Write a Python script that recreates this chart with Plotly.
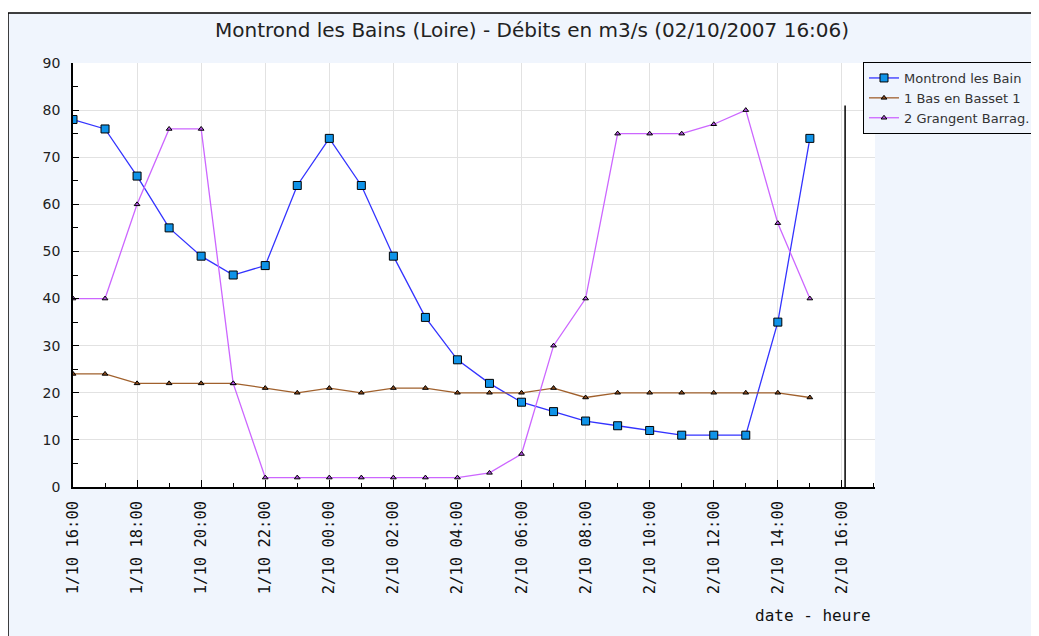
import plotly.graph_objects as go

# hourly readings, 1/10/2007 16:00 -> 2/10/2007 15:00
times = [
    "2007-10-01 16:00", "2007-10-01 17:00", "2007-10-01 18:00", "2007-10-01 19:00",
    "2007-10-01 20:00", "2007-10-01 21:00", "2007-10-01 22:00", "2007-10-01 23:00",
    "2007-10-02 00:00", "2007-10-02 01:00", "2007-10-02 02:00", "2007-10-02 03:00",
    "2007-10-02 04:00", "2007-10-02 05:00", "2007-10-02 06:00", "2007-10-02 07:00",
    "2007-10-02 08:00", "2007-10-02 09:00", "2007-10-02 10:00", "2007-10-02 11:00",
    "2007-10-02 12:00", "2007-10-02 13:00", "2007-10-02 14:00", "2007-10-02 15:00",
]
montrond = [78, 76, 66, 55, 49, 45, 47, 64, 74, 64, 49, 36, 27, 22, 18, 16, 14, 13, 12, 11, 11, 11, 35, 74]
bas_en_basset = [24, 24, 22, 22, 22, 22, 21, 20, 21, 20, 21, 21, 20, 20, 20, 21, 19, 20, 20, 20, 20, 20, 20, 19]
grangent = [40, 40, 60, 76, 76, 22, 2, 2, 2, 2, 2, 2, 2, 3, 7, 30, 40, 75, 75, 75, 77, 80, 56, 40]

now_marker = "2007-10-02 16:06"
now_top = 81

BG = "#f0f5fd"
# page body has an 8px margin, so everything is laid out 8px up/left
W, H = 1031, 628
L, R, T, B = 65, 867, 55, 479  # plot area in pixels


def px_x(p):
    return (p - L) / (R - L)


def px_y(p):
    return (B - p) / (B - T)


fig = go.Figure()
fig.add_trace(go.Scatter(
    x=times, y=montrond, name="Montrond les Bain", mode="lines+markers",
    line=dict(color="#3333ff", width=1.3),
    marker=dict(symbol="square", size=8, color="#0f93e8", line=dict(color="black", width=1)),
))
fig.add_trace(go.Scatter(
    x=times, y=bas_en_basset, name="1 Bas en Basset 1", mode="lines+markers",
    line=dict(color="#a0602c", width=1.3),
    marker=dict(symbol="triangle-up", size=5, color="#8a4a1c", line=dict(color="black", width=1)),
))
fig.add_trace(go.Scatter(
    x=times, y=grangent, name="2 Grangent Barrag.", mode="lines+markers",
    line=dict(color="#cc66ff", width=1.3),
    marker=dict(symbol="triangle-up", size=5, color="#b050e0", line=dict(color="black", width=1)),
))

# "now" line
fig.add_trace(go.Scatter(
    x=[now_marker, now_marker], y=[0, now_top], mode="lines",
    line=dict(color="black", width=1.5), showlegend=False, hoverinfo="skip",
))

fig.update_layout(
    width=W, height=H,
    margin=dict(l=L, r=W - R, t=T, b=H - B, autoexpand=False),
    paper_bgcolor="white",
    plot_bgcolor="white",
    font=dict(family="DejaVu Sans", size=13, color="#222"),
    showlegend=True,
    legend=dict(
        x=px_x(855), y=px_y(54), xanchor="left", yanchor="top",
        bgcolor=BG, bordercolor="black", borderwidth=1,
        font=dict(family="DejaVu Sans", size=13, color="#333"),
        itemwidth=30, tracegroupgap=0,
    ),
    shapes=[
        dict(type="rect", xref="paper", yref="paper", layer="below",
             x0=px_x(0), x1=px_x(1060), y0=px_y(5), y1=px_y(660),
             fillcolor=BG, line=dict(color="black", width=1.5)),
        dict(type="rect", xref="paper", yref="paper", layer="below",
             x0=0, x1=1, y0=0, y1=1, fillcolor="white", line=dict(width=0)),
    ],
    annotations=[
        dict(text="Montrond les Bains (Loire) - Débits en m3/s (02/10/2007 16:06)",
             xref="paper", yref="paper", x=px_x(524), y=px_y(22),
             xanchor="center", yanchor="middle", showarrow=False,
             font=dict(family="DejaVu Sans", size=20, color="#222")),
        dict(text="date - heure", xref="paper", yref="paper",
             x=px_x(865), y=px_y(607), xanchor="right", yanchor="middle",
             showarrow=False, font=dict(family="DejaVu Sans Mono", size=16, color="#111")),
    ],
)

fig.update_xaxes(
    type="date",
    range=["2007-10-01 16:00", "2007-10-02 17:02"],
    tick0="2007-10-01 16:00", dtick=2 * 3600 * 1000,
    tickformat="%-d/%m %H:%M", tickangle=-90,
    tickfont=dict(family="DejaVu Sans Mono", size=15.5, color="#111"),
    ticks="inside", ticklen=7, tickcolor="black", tickwidth=1,
    ticklabelstandoff=6,
    minor=dict(ticks="inside", ticklen=4, dtick=3600 * 1000, tickcolor="black", showgrid=False),
    showline=True, linecolor="black", linewidth=1.5,
    showgrid=True, gridcolor="#e2e2e2", gridwidth=1,
    zeroline=False, fixedrange=True,
)
fig.update_yaxes(
    range=[0, 90], dtick=10,
    tickfont=dict(family="DejaVu Sans", size=14, color="#222"),
    ticks="inside", ticklen=6, tickcolor="black", tickwidth=1,
    ticklabelstandoff=8,
    minor=dict(ticks="inside", ticklen=5, dtick=5, tickcolor="black", showgrid=False),
    showline=True, linecolor="black", linewidth=1.5,
    showgrid=True, gridcolor="#e2e2e2", gridwidth=1,
    zeroline=False, fixedrange=True,
)

fig.write_html("out.html")
